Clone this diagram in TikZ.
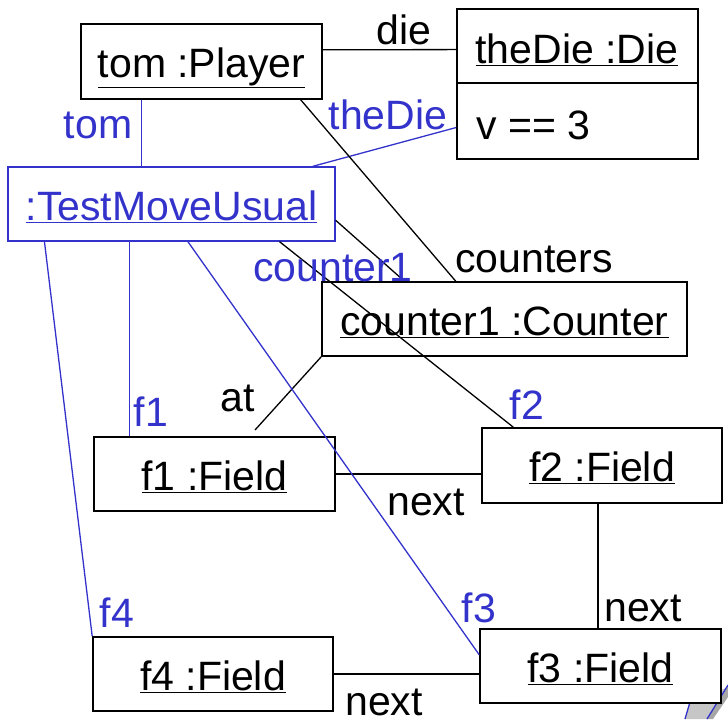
\documentclass[tikz,border=0pt]{standalone}
\usepackage{fontspec}
\setmainfont{Liberation Sans}
\usetikzlibrary{calc}
\definecolor{umlblue}{RGB}{51,51,204}
\begin{document}
\begin{tikzpicture}[x=1pt,y=-1pt,
  obj/.style={draw,line width=1.6pt,fill=white,inner sep=0pt,text height=40pt,text depth=8pt,font=\fontsize{41}{41}\selectfont},
  tobj/.style={obj,draw=umlblue,text=umlblue,line width=1.3pt},
  lbl/.style={inner sep=0pt,font=\fontsize{41}{41}\selectfont},
  blbl/.style={lbl,text=umlblue},
  link/.style={line width=1.3pt},
  blink/.style={line width=1.3pt,draw=umlblue}]
\useasboundingbox (0,0) rectangle (728,720);
% page curl
\fill[gray!45] (685,719) -- (690,702) -- (726,688) -- (707,719) -- cycle;
\fill[gray!70] (707,719) -- (728,685) -- (728,697) -- (713,719) -- cycle;
\draw[blink] (685,719) -- (690,702);
\draw[blink] (707,719) -- (728,685);
% objects
\node[obj,minimum width=241pt,minimum height=75pt] (tom) at (201.5,61.5) {\underline{tom :Player}};
\node[obj,minimum width=241pt,minimum height=150pt] (die) at (577.5,84) {};
\node[lbl] (dietitle) at (577,50) {\underline{theDie :Die}};
\node[lbl,anchor=west] (dieattr) at (476,125) {v == 3};
\coordinate (divL) at ($(die.north west)!0.493!(die.south west)$);
\coordinate (divR) at ($(die.north east)!0.493!(die.south east)$);
\draw[line width=1.6pt] (divL) -- (divR);
\node[tobj,minimum width=327pt,minimum height=74pt] (tmu) at (171.5,204) {\underline{:TestMoveUsual}};
\node[obj,minimum width=365pt,minimum height=74pt] (counter) at (504.5,319) {\underline{counter1 :Counter}};
\node[obj,minimum width=241pt,minimum height=74pt] (f1) at (214.5,474) {\underline{f1 :Field}};
\node[obj,minimum width=240pt,minimum height=75pt] (f2) at (602,465.5) {\underline{f2 :Field}};
\node[obj,minimum width=241pt,minimum height=74pt] (f3) at (600.5,666) {\underline{f3 :Field}};
\node[obj,minimum width=240pt,minimum height=74pt] (f4) at (213,674) {\underline{f4 :Field}};
% connectors
\draw[link] ($(tom.north east)!0.347!(tom.south east)$) -- ($(die.north west)!0.273!(die.south west)$);
\coordinate (tomS) at ($(tom.south west)!0.253!(tom.south east)$);
\draw[blink] (tomS) -- (tomS |- tmu.north);
\draw[blink] ($(tmu.north west)!0.93!(tmu.north east)$) -- ($(die.north west)!0.787!(die.south west)$);
\draw[link] ($(tom.south west)!0.909!(tom.south east)$) -- ($(counter.north west)!0.367!(counter.north east)$);
\draw[link] ($(tmu.north east)!0.716!(tmu.south east)$) -- ($(counter.north west)!0.227!(counter.north east)$);
\draw[link] ($(tmu.south west)!0.829!(tmu.south east)$) -- ($(f2.north west)!0.133!(f2.north east)$);
\coordinate (tmuF1) at ($(tmu.south west)!0.373!(tmu.south east)$);
\draw[blink] (tmuF1) -- (tmuF1 |- f1.north);
\coordinate (atEnd) at (255,430);
\draw[link] (counter.south west) -- (atEnd);
\draw[link] (f1.east) -- (f1.east -| f2.west);
\draw[blink] ($(tmu.south west)!0.55!(tmu.south east)$) -- ($(f3.north west)!0.351!(f3.south west)$);
\coordinate (f2S) at ($(f2.south west)!0.483!(f2.south east)$);
\draw[link] (f2S) -- (f2S |- f3.north);
\draw[blink] ($(tmu.south west)!0.113!(tmu.south east)$) -- (f4.north west);
\draw[link] (f4.east) -- (f4.east -| f3.west);
% labels
\node[lbl] (ldie) at (404,30) {die};
\node[blbl] (ltom) at (98,125) {tom};
\node[blbl] (lthedie) at (388,115) {theDie};
\node[lbl] (lcounters) at (534,259) {counters};
\node[blbl] (lcounter1) at (333,268) {counter1};
\node[blbl] (lf1) at (151,412) {f1};
\node[lbl] (lat) at (238,398) {at};
\node[blbl] (lf2) at (527,405) {f2};
\node[lbl] (lnext1) at (426,502) {next};
\node[blbl] (lf3) at (479,608) {f3};
\node[lbl] (lnext2) at (643,608) {next};
\node[blbl] (lf4) at (117,613) {f4};
\node[lbl] (lnext3) at (384,702) {next};
\end{tikzpicture}
\end{document}
